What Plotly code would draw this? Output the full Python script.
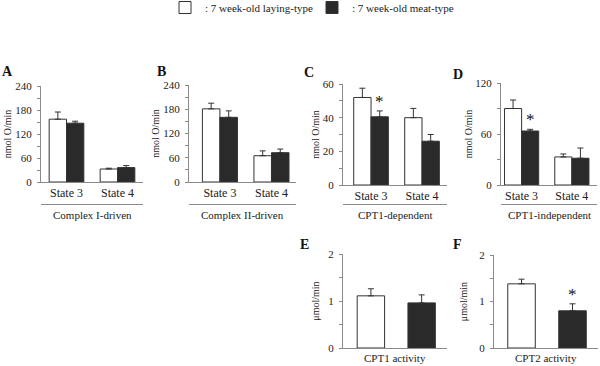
import plotly.graph_objects as go

# ---------------- data ----------------
states = ["State 3", "State 4"]
groups = ["laying", "meat"]

a_lay = [157, 32.5]; a_lay_sem = [18, 2]
a_meat = [147, 36]; a_meat_sem = [5, 5]

b_lay = [181, 65]; b_lay_sem = [14, 12]
b_meat = [160, 72.5]; b_meat_sem = [16, 9]

c_lay = [52, 40]; c_lay_sem = [5.5, 5.5]
c_meat = [40.5, 26]; c_meat_sem = [3.5, 4]

d_lay = [90, 33]; d_lay_sem = [10, 3.5]
d_meat = [63.5, 31.5]; d_meat_sem = [2, 12]

e_vals = [1.11, 0.96]; e_sem = [0.15, 0.17]
f_vals = [1.38, 0.80]; f_sem = [0.10, 0.15]

legend_names = [": 7 week-old laying-type", ": 7 week-old meat-type"]
group_titles = ["Complex I-driven", "Complex II-driven", "CPT1-dependent", "CPT1-independent"]
activity_titles = ["CPT1 activity", "CPT2 activity"]
panel_letters = ["A", "B", "C", "D", "E", "F"]

# ---------------- styling ----------------
W, H = 600, 366
FONT = "Liberation Serif"
TXT = "#222222"
AX = "#8a8a8a"
WHITE = "#ffffff"
BLACK = "#2a2a2a"
EDGE = "#333333"
BW = 0.34  # bar width in category units (state panels)
BW2 = 0.54  # bar width (activity panels)

def px_x(p):
    return p / W

def px_y(p):
    return 1 - p / H

# panel geometry in pixels: (x0, x1, ytop, ybot, ymax, dtick, xrange, title standoff)
panels = [
    (41, 143, 86, 182, 240, 60, [-0.5, 1.5], 1),
    (189, 296, 85, 182, 240, 60, [-0.6, 1.476], 1),
    (343, 447, 84, 185, 60, 20, [-0.55, 1.49], 1),
    (501, 597, 83, 185, 120, 60, [-0.41, 1.5], 0),
    (343, 447, 254, 348, 2, 1, [-0.55, 1.5], 6),
    (494, 598, 255, 348, 2, 1, [-0.54, 1.5], 9),
]

fig = go.Figure()

def err(sem):
    return dict(type="data", array=sem, arrayminus=[0] * len(sem), symmetric=False,
                color=EDGE, thickness=1, width=3)

state_data = [
    (a_lay, a_lay_sem, a_meat, a_meat_sem),
    (b_lay, b_lay_sem, b_meat, b_meat_sem),
    (c_lay, c_lay_sem, c_meat, c_meat_sem),
    (d_lay, d_lay_sem, d_meat, d_meat_sem),
]

for i, (lay, lay_sem, meat, meat_sem) in enumerate(state_data):
    sfx = "" if i == 0 else str(i + 1)
    fig.add_trace(go.Bar(x=states, y=lay, width=BW, offset=-BW,
                         marker=dict(color=WHITE, line=dict(color=EDGE, width=1)),
                         error_y=err(lay_sem), name=legend_names[0],
                         legendgroup="lay", showlegend=(i == 0),
                         xaxis="x" + sfx, yaxis="y" + sfx))
    fig.add_trace(go.Bar(x=states, y=meat, width=BW, offset=0,
                         marker=dict(color=BLACK, line=dict(color=EDGE, width=1)),
                         error_y=err(meat_sem), name=legend_names[1],
                         legendgroup="meat", showlegend=(i == 0),
                         xaxis="x" + sfx, yaxis="y" + sfx))

for j, (vals, sem) in enumerate([(e_vals, e_sem), (f_vals, f_sem)]):
    sfx = str(j + 5)
    fig.add_trace(go.Bar(x=[groups[0]], y=[vals[0]], width=BW2, offset=-BW2 / 2,
                         marker=dict(color=WHITE, line=dict(color=EDGE, width=1)),
                         error_y=err([sem[0]]), showlegend=False, legendgroup="lay",
                         xaxis="x" + sfx, yaxis="y" + sfx))
    fig.add_trace(go.Bar(x=[groups[1]], y=[vals[1]], width=BW2, offset=-BW2 / 2,
                         marker=dict(color=BLACK, line=dict(color=EDGE, width=1)),
                         error_y=err([sem[1]]), showlegend=False, legendgroup="meat",
                         xaxis="x" + sfx, yaxis="y" + sfx))

layout = dict(
    width=W, height=H, margin=dict(l=0, r=0, t=0, b=0, autoexpand=False),
    paper_bgcolor="white", plot_bgcolor="white",
    font=dict(family=FONT, size=11, color=TXT),
    barmode="overlay",
    legend=dict(orientation="h", x=px_x(165), xanchor="left", y=px_y(-7), yanchor="top",
                font=dict(family=FONT, size=11, color=TXT), itemwidth=30,
                entrywidth=102, entrywidthmode="pixels",
                tracegroupgap=0, bgcolor="rgba(0,0,0,0)"),
)

annotations = []
shapes = []
for k, (x0, x1, yt, yb, ymax, dt, xr, so) in enumerate(panels):
    sfx = "" if k == 0 else str(k + 1)
    ytitle = "nmol O/min" if k < 4 else "μmol/min"
    cats = states if k < 4 else groups
    layout["xaxis" + sfx] = dict(
        domain=[px_x(x0), px_x(x1)], anchor="y" + sfx, type="category",
        categoryorder="array", categoryarray=cats, range=xr, automargin=False,
        showline=True, linecolor=AX, linewidth=1, ticks="",
        showticklabels=(k < 4), tickfont=dict(family=FONT, size=12, color=TXT),
        showgrid=False, zeroline=False, fixedrange=True,
    )
    layout["yaxis" + sfx] = dict(
        domain=[px_y(yb), px_y(yt)], anchor="x" + sfx, range=[0, ymax], automargin=False,
        dtick=dt, tick0=0, showline=True, linecolor=AX, linewidth=1,
        ticks="outside", ticklen=3, tickcolor=AX, tickwidth=1, ticklabelstandoff=3,
        minor=dict(dtick=dt / 2, ticks="outside", ticklen=3, tickcolor=AX, showgrid=False),
        showgrid=False, zeroline=False,
        tickfont=dict(family=FONT, size=11, color=TXT),
        title=dict(text=ytitle, font=dict(family=FONT, size=10, color=TXT), standoff=so),
        fixedrange=True,
    )
    if k < 4:
        shapes.append(dict(type="line", xref="x" + sfx + " domain", yref="paper",
                           x0=0, x1=1, y0=px_y(204.5), y1=px_y(204.5),
                           line=dict(color=AX, width=1)))
        annotations.append(dict(text=group_titles[k], xref="paper", yref="paper",
                                x=px_x((x0 + x1) / 2), y=px_y(215), showarrow=False,
                                xanchor="center", yanchor="middle",
                                font=dict(family=FONT, size=11, color=TXT)))
    else:
        annotations.append(dict(text=activity_titles[k - 4], xref="paper", yref="paper",
                                x=px_x((x0 + x1) / 2), y=px_y(358), showarrow=False,
                                xanchor="center", yanchor="middle",
                                font=dict(family=FONT, size=11, color=TXT)))

letter_pos = [(7, 71), (161, 71), (309, 72), (458, 74), (304, 244), (457, 244)]
for L, (lx, ly) in zip(panel_letters, letter_pos):
    annotations.append(dict(text="<b>%s</b>" % L, xref="paper", yref="paper",
                            x=px_x(lx), y=px_y(ly), showarrow=False,
                            xanchor="center", yanchor="middle",
                            font=dict(family=FONT, size=14, color="#111111")))

# significance stars above meat-type bars
stars = [
    ("x3", "y3", 0 + BW / 2, c_meat[0] + c_meat_sem[0]),
    ("x4", "y4", 0 + BW / 2, d_meat[0] + d_meat_sem[0]),
    ("x6", "y6", 1, f_vals[1] + f_sem[1]),
]
for xr_, yr_, sx, sy in stars:
    annotations.append(dict(text="*", xref=xr_, yref=yr_, x=sx, y=sy, showarrow=False,
                            xanchor="center", yanchor="bottom", yshift=-2,
                            font=dict(family=FONT, size=17, color="#111111")))

layout["annotations"] = annotations
layout["shapes"] = shapes
fig.update_layout(**layout)
fig.write_html("out.html", config={"displayModeBar": False},
               post_script="document.body.style.margin='0';document.body.style.overflow='hidden';")
